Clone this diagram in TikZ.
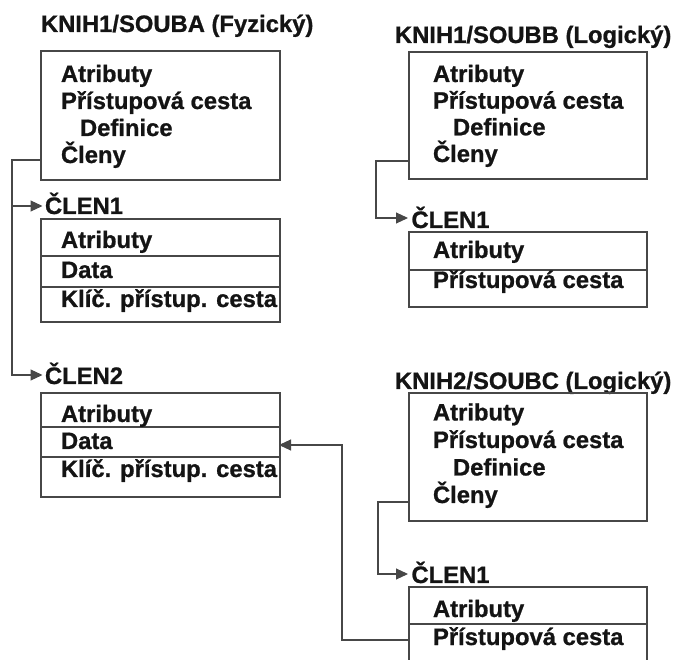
\documentclass[tikz,border=0pt]{standalone}
\usepackage{fontspec}
\setmainfont{Liberation Sans}[BoldFeatures={FakeBold=0.9}]
\usetikzlibrary{arrows.meta}
\begin{document}
\begin{tikzpicture}[x=1pt,y=-1pt,
  every node/.style={inner sep=0pt,outer sep=0pt},
  txt/.style={anchor=base west,font=\bfseries\fontsize{23.8}{27}\selectfont,text=black!92},
  frame/.style={draw=black!72,line width=1.1pt,rectangle,anchor=north west},
  rule/.style={draw=black!72,line width=1.1pt},
  link/.style={draw=black!72,line width=1.1pt},
  arr/.style={link,-{Triangle[length=12pt,width=11pt]}}]
\clip (0,0) rectangle (673,660);

% ---------------- KNIH1/SOUBA (physical file) ----------------
\node[txt] (ta) at (41,32) {KNIH1/SOUBA (Fyzický)};
\node[frame,minimum width=239pt,minimum height=129pt] (sa) at (41,51) {};
\node[txt] (sa1) at (61,82)  {Atributy};
\node[txt] (sa2) at (61,109) {Přístupová cesta};
\node[txt] (sa3) at (80,136) {Definice};
\node[txt] (sa4) at (61,163) {Členy};

% member 1 of SOUBA
\node[txt] (la1) at (45,214) {ČLEN1};
\node[frame,minimum width=239pt,minimum height=103pt] (a1) at (41,219) {};
\draw[rule] (a1.west |- 0,256) -- (a1.east |- 0,256);
\draw[rule] (a1.west |- 0,287) -- (a1.east |- 0,287);
\node[txt] (a1t1) at (61,248) {Atributy};
\node[txt] (a1t2) at (61,278) {Data};
\node[txt] (a1t3) at (61,307) {Klíč. přístup. cesta};

% member 2 of SOUBA
\node[txt] (la2) at (45,384) {ČLEN2};
\node[frame,minimum width=239pt,minimum height=104pt] (a2) at (41,393) {};
\draw[rule] (a2.west |- 0,427) -- (a2.east |- 0,427);
\draw[rule] (a2.west |- 0,457) -- (a2.east |- 0,457);
\node[txt] (a2t1) at (61,422) {Atributy};
\node[txt] (a2t2) at (61,449) {Data};
\node[txt] (a2t3) at (61,477) {Klíč. přístup. cesta};

% ---------------- KNIH1/SOUBB (logical file) ----------------
\node[txt] (tb) at (395,43) {KNIH1/SOUBB (Logický)};
\node[frame,minimum width=238pt,minimum height=127pt] (sb) at (409,52) {};
\node[txt] (sb1) at (433,82)    {Atributy};
\node[txt] (sb2) at (433,108.7) {Přístupová cesta};
\node[txt] (sb3) at (453,135.3) {Definice};
\node[txt] (sb4) at (433,162)   {Členy};

\node[txt] (lb1) at (411.5,228) {ČLEN1};
\node[frame,minimum width=238pt,minimum height=75pt] (b1) at (409,232) {};
\draw[rule] (b1.west |- 0,270) -- (b1.east |- 0,270);
\node[txt] (b1t1) at (433,258) {Atributy};
\node[txt] (b1t2) at (433,288) {Přístupová cesta};

% ---------------- KNIH2/SOUBC (logical file) ----------------
\node[txt] (tc) at (395,389) {KNIH2/SOUBC (Logický)};
\node[frame,minimum width=238pt,minimum height=128pt] (sc) at (409,393) {};
\node[txt] (sc1) at (433,420.5) {Atributy};
\node[txt] (sc2) at (433,448)   {Přístupová cesta};
\node[txt] (sc3) at (453,475.5) {Definice};
\node[txt] (sc4) at (433,503)   {Členy};

\node[txt] (lc1) at (411.5,583) {ČLEN1};
\node[frame,minimum width=238pt,minimum height=110pt] (c1) at (409,587) {};
\draw[rule] (c1.west |- 0,624) -- (c1.east |- 0,624);
\node[txt] (c1t1) at (433,617) {Atributy};
\node[txt] (c1t2) at (433,645) {Přístupová cesta};

% ---------------- connectors ----------------
\coordinate (ra)  at (12,160);
\coordinate (ra1) at (12,206);
\coordinate (ra2) at (12,375);
\draw[arr,shorten >=2.5pt] (sa.west |- ra) -- (ra) -- (ra2) -- (la2.west |- ra2);
\draw[arr,shorten >=2.5pt] (ra1) -- (la1.west |- ra1);

\coordinate (rb)  at (376,161);
\coordinate (rb1) at (376,218);
\draw[arr,shorten >=3.5pt] (sb.west |- rb) -- (rb) -- (rb1) -- (lb1.west |- rb1);

\coordinate (rc)  at (378,502);
\coordinate (rc1) at (378,574);
\draw[arr,shorten >=3.5pt] (sc.west |- rc) -- (rc) -- (rc1) -- (lc1.west |- rc1);

\coordinate (rd)  at (342,640);
\coordinate (rd1) at (342,445);
\draw[arr,shorten >=-1pt] (c1.west |- rd) -- (rd) -- (rd1) -- (a2.east |- rd1);
\end{tikzpicture}
\end{document}
